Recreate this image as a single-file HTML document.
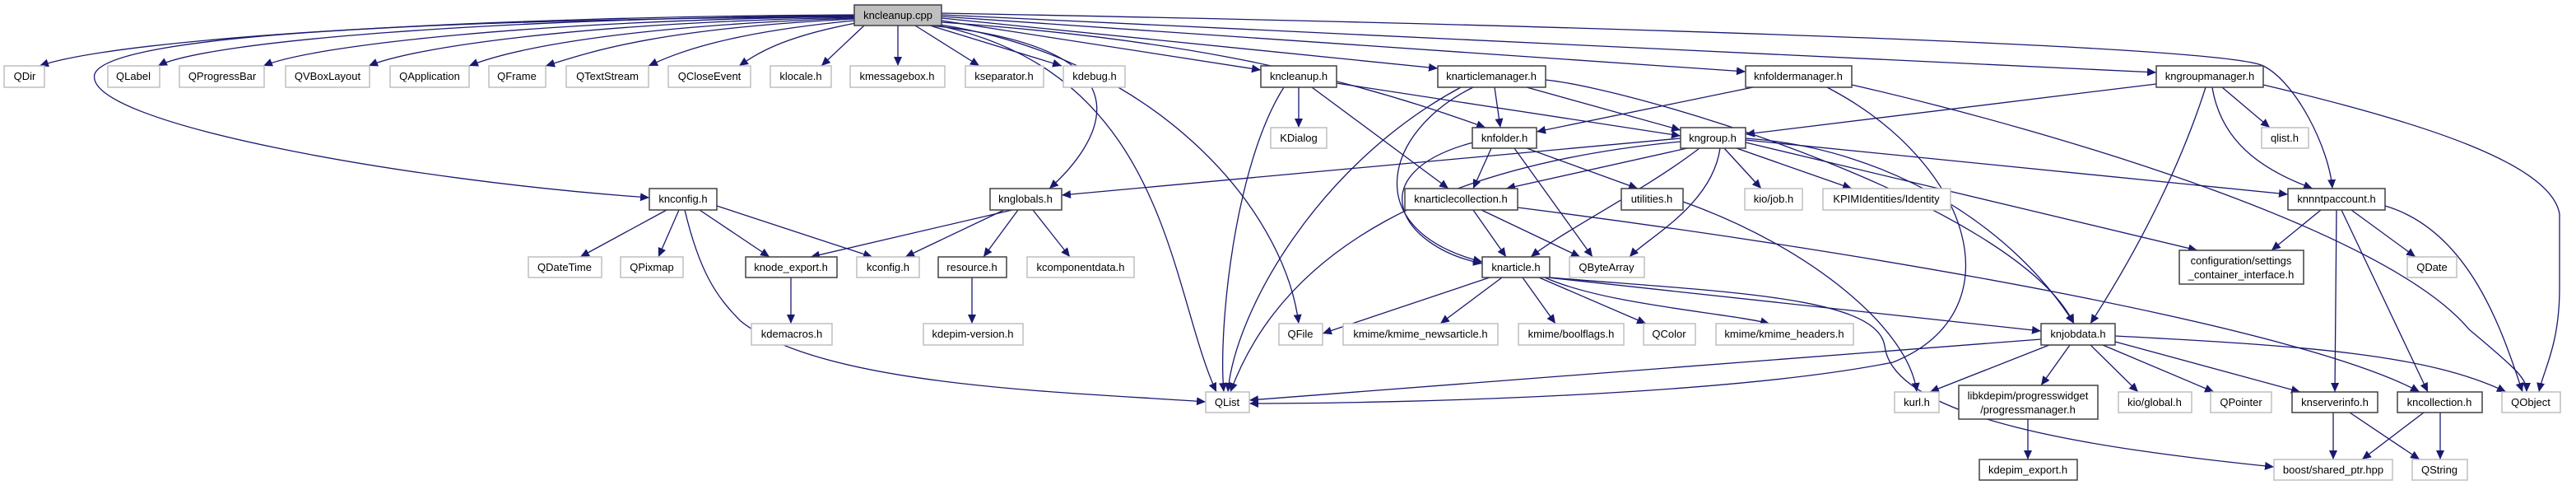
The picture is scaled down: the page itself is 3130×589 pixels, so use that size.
<!DOCTYPE html>
<html><head><meta charset="utf-8"><style>
html,body{margin:0;padding:0;background:#fff;}
svg{display:block;}
text{font-family:"Liberation Sans",sans-serif;font-size:13px;fill:#000;text-anchor:middle;}
.e{fill:none;stroke:#191970;stroke-width:1.3;marker-end:url(#a);}
.g{fill:#fff;stroke:#bfbfbf;stroke-width:1.5;}
.b{fill:#fff;stroke:#404040;stroke-width:1.5;}
</style></head><body>
<svg width="3130" height="589" viewBox="0 0 3130 589" xmlns="http://www.w3.org/2000/svg">
<defs><marker id="a" markerUnits="userSpaceOnUse" markerWidth="12" markerHeight="10" refX="11" refY="5" orient="auto"><path d="M0,0 L11,5 L0,10 z" fill="#191970"/></marker></defs>
<g>
<path class="e" d="M1038,18 C600,20 150,45 48,80"/>
<path class="e" d="M1038,19 C600,22 250,50 192,80"/>
<path class="e" d="M1038,20 C650,25 380,55 320,80"/>
<path class="e" d="M1038,21 C700,28 500,58 448,80"/>
<path class="e" d="M1038,22 C750,32 620,60 570,80"/>
<path class="e" d="M1038,23 C800,35 720,62 663,80"/>
<path class="e" d="M1038,25 C880,40 820,65 788,80"/>
<path class="e" d="M1040,28 C950,45 920,65 898,80"/>
<path class="e" d="M1050,31 L998,80"/>
<path class="e" d="M1091,31 L1091,80"/>
<path class="e" d="M1112,31 L1190,80"/>
<path class="e" d="M1130,31 L1290,80"/>
<path class="e" d="M1144,25 L1532,85"/>
<path class="e" d="M1144,22 L1747,83"/>
<path class="e" d="M1144,20 L2121,87"/>
<path class="e" d="M1144,18 L2620,88"/>
<path class="e" d="M1144,16 C1900,30 2700,55 2750,80 C2790,100 2830,180 2834,229"/>
<path class="e" d="M1144,27 C1400,45 1600,80 1805,155"/>
<path class="e" d="M1130,31 C1420,60 1330,180 1275,229"/>
<path class="e" d="M1140,31 C1420,90 1420,350 1478,476"/>
<path class="e" d="M1142,30 C1400,70 1560,250 1578,393"/>
<path class="e" d="M1038,20 C400,25 130,50 115,90 C100,150 500,220 789,240"/>
<path class="e" d="M1578,106 L1578,155"/>
<path class="e" d="M1594,106 L1760,229"/>
<path class="e" d="M1560,106 C1500,200 1480,400 1487,476"/>
<path class="e" d="M1624,101 L2042,165"/>
<path class="e" d="M1816,106 L1823,155"/>
<path class="e" d="M1855,106 L2042,158"/>
<path class="e" d="M1775,106 C1600,200 1500,380 1492,476"/>
<path class="e" d="M1790,106 C1680,160 1650,280 1801,318"/>
<path class="e" d="M1878,97 C2000,110 2450,250 2520,393"/>
<path class="e" d="M2130,106 L1867,160"/>
<path class="e" d="M2250,103 C2500,160 2900,280 3000,400 C3060,450 3070,460 3070,476"/>
<path class="e" d="M2220,106 C2400,200 2450,380 2300,440 C2100,480 1700,490 1518,490"/>
<path class="e" d="M2620,102 L2121,163"/>
<path class="e" d="M2700,106 L2758,155"/>
<path class="e" d="M2688,106 C2700,180 2760,210 2810,229"/>
<path class="e" d="M2680,106 C2650,200 2600,300 2540,393"/>
<path class="e" d="M2750,103 C2950,150 3100,200 3110,260 L3110,350 C3110,420 3090,450 3085,476"/>
<path class="e" d="M2042,168 L1290,237"/>
<path class="e" d="M2050,180 L1830,229"/>
<path class="e" d="M2065,180 C2000,230 1900,280 1860,312"/>
<path class="e" d="M2090,180 C2080,250 2000,290 1980,312"/>
<path class="e" d="M2095,180 L2140,229"/>
<path class="e" d="M2110,180 L2250,229"/>
<path class="e" d="M2121,170 L2780,236"/>
<path class="e" d="M2121,173 L2670,304"/>
<path class="e" d="M2121,168 C2300,180 2450,280 2520,393"/>
<path class="e" d="M2042,172 C1750,200 1560,300 1495,476"/>
<path class="e" d="M1812,180 L1790,229"/>
<path class="e" d="M1790,173 C1650,210 1700,300 1801,320"/>
<path class="e" d="M1840,180 L1935,312"/>
<path class="e" d="M1855,180 L1990,229"/>
<path class="e" d="M1790,255 L1830,312"/>
<path class="e" d="M1800,255 L1920,312"/>
<path class="e" d="M1844,252 C2300,310 2800,400 2940,476"/>
<path class="e" d="M2045,245 C2200,300 2320,400 2329,476"/>
<path class="e" d="M2820,255 L2760,304"/>
<path class="e" d="M2839,255 L2837,476"/>
<path class="e" d="M2845,255 L2950,476"/>
<path class="e" d="M2857,255 L2935,312"/>
<path class="e" d="M2898,250 C3000,280 3040,400 3065,476"/>
<path class="e" d="M1230,255 L985,312"/>
<path class="e" d="M1220,255 L1100,312"/>
<path class="e" d="M1237,255 L1195,312"/>
<path class="e" d="M1255,255 L1300,312"/>
<path class="e" d="M810,255 L705,312"/>
<path class="e" d="M825,255 L800,312"/>
<path class="e" d="M850,255 L935,312"/>
<path class="e" d="M871,250 L1060,312"/>
<path class="e" d="M832,255 C850,330 870,360 900,390 C1000,470 1300,476 1465,488"/>
<path class="e" d="M961,337 L961,393"/>
<path class="e" d="M1181,337 L1181,393"/>
<path class="e" d="M1810,337 L1607,405"/>
<path class="e" d="M1825,337 L1750,393"/>
<path class="e" d="M1850,337 L1890,393"/>
<path class="e" d="M1870,337 L2000,393"/>
<path class="e" d="M1877,337 C1950,370 2100,380 2150,393"/>
<path class="e" d="M1880,337 L2480,402"/>
<path class="e" d="M1883,337 C2100,355 2280,360 2290,420 C2300,510 2550,545 2763,567"/>
<path class="e" d="M2480,412 L1518,486"/>
<path class="e" d="M2490,419 L2345,476"/>
<path class="e" d="M2515,419 L2480,468"/>
<path class="e" d="M2540,419 L2598,476"/>
<path class="e" d="M2555,419 L2690,476"/>
<path class="e" d="M2570,415 L2795,476"/>
<path class="e" d="M2570,408 C2800,420 2950,430 3045,476"/>
<path class="e" d="M2464,509 L2464,558"/>
<path class="e" d="M2835,501 L2835,558"/>
<path class="e" d="M2855,501 L2940,558"/>
<path class="e" d="M2945,501 L2870,558"/>
<path class="e" d="M2965,501 L2965,558"/>
</g>
<g>
<rect x="1038" y="6" width="106" height="25" fill="#bfbfbf" stroke="#404040" stroke-width="1.5"/><text x="1091" y="23">kncleanup.cpp</text>
<rect class="g" x="5" y="80" width="49" height="26"/><text x="30" y="97">QDir</text>
<rect class="g" x="131" y="80" width="63" height="26"/><text x="162" y="97">QLabel</text>
<rect class="g" x="218" y="80" width="103" height="26"/><text x="270" y="97">QProgressBar</text>
<rect class="g" x="347" y="80" width="102" height="26"/><text x="398" y="97">QVBoxLayout</text>
<rect class="g" x="474" y="80" width="96" height="26"/><text x="522" y="97">QApplication</text>
<rect class="g" x="594" y="80" width="69" height="26"/><text x="628" y="97">QFrame</text>
<rect class="g" x="688" y="80" width="100" height="26"/><text x="738" y="97">QTextStream</text>
<rect class="g" x="812" y="80" width="100" height="26"/><text x="862" y="97">QCloseEvent</text>
<rect class="g" x="936" y="80" width="74" height="26"/><text x="973" y="97">klocale.h</text>
<rect class="g" x="1033" y="80" width="115" height="26"/><text x="1090" y="97">kmessagebox.h</text>
<rect class="g" x="1173" y="80" width="95" height="26"/><text x="1220" y="97">kseparator.h</text>
<rect class="g" x="1292" y="80" width="75" height="26"/><text x="1330" y="97">kdebug.h</text>
<rect class="b" x="1532" y="80" width="92" height="26"/><text x="1578" y="97">kncleanup.h</text>
<rect class="b" x="1747" y="80" width="131" height="26"/><text x="1812" y="97">knarticlemanager.h</text>
<rect class="b" x="2121" y="80" width="129" height="26"/><text x="2185" y="97">knfoldermanager.h</text>
<rect class="b" x="2620" y="80" width="130" height="26"/><text x="2685" y="97">kngroupmanager.h</text>
<rect class="g" x="1544" y="155" width="68" height="25"/><text x="1578" y="172">KDialog</text>
<rect class="b" x="1789" y="155" width="78" height="25"/><text x="1828" y="172">knfolder.h</text>
<rect class="b" x="2042" y="155" width="79" height="25"/><text x="2081" y="172">kngroup.h</text>
<rect class="g" x="2748" y="155" width="57" height="25"/><text x="2776" y="172">qlist.h</text>
<rect class="b" x="789" y="229" width="82" height="26"/><text x="830" y="246">knconfig.h</text>
<rect class="b" x="1203" y="229" width="87" height="26"/><text x="1246" y="246">knglobals.h</text>
<rect class="b" x="1707" y="229" width="137" height="26"/><text x="1775" y="246">knarticlecollection.h</text>
<rect class="b" x="1970" y="229" width="75" height="26"/><text x="2007" y="246">utilities.h</text>
<rect class="g" x="2120" y="229" width="70" height="26"/><text x="2155" y="246">kio/job.h</text>
<rect class="g" x="2215" y="229" width="155" height="26"/><text x="2292" y="246">KPIMIdentities/Identity</text>
<rect class="b" x="2780" y="229" width="118" height="26"/><text x="2839" y="246">knnntpaccount.h</text>
<rect class="g" x="642" y="312" width="89" height="25"/><text x="686" y="329">QDateTime</text>
<rect class="g" x="754" y="312" width="76" height="25"/><text x="792" y="329">QPixmap</text>
<rect class="b" x="906" y="312" width="111" height="25"/><text x="961" y="329">knode_export.h</text>
<rect class="g" x="1041" y="312" width="76" height="25"/><text x="1079" y="329">kconfig.h</text>
<rect class="b" x="1140" y="312" width="83" height="25"/><text x="1181" y="329">resource.h</text>
<rect class="g" x="1248" y="312" width="130" height="25"/><text x="1313" y="329">kcomponentdata.h</text>
<rect class="b" x="1801" y="312" width="82" height="25"/><text x="1842" y="329">knarticle.h</text>
<rect class="g" x="1907" y="312" width="91" height="25"/><text x="1952" y="329">QByteArray</text>
<rect class="b" x="2648" y="304" width="151" height="41"/><text x="2723" y="321">configuration/settings</text><text x="2723" y="338">_container_interface.h</text>
<rect class="g" x="2925" y="312" width="60" height="25"/><text x="2955" y="329">QDate</text>
<rect class="g" x="913" y="393" width="98" height="26"/><text x="962" y="410">kdemacros.h</text>
<rect class="g" x="1122" y="393" width="121" height="26"/><text x="1182" y="410">kdepim-version.h</text>
<rect class="g" x="1554" y="393" width="53" height="26"/><text x="1580" y="410">QFile</text>
<rect class="g" x="1632" y="393" width="188" height="26"/><text x="1726" y="410">kmime/kmime_newsarticle.h</text>
<rect class="g" x="1845" y="393" width="128" height="26"/><text x="1909" y="410">kmime/boolflags.h</text>
<rect class="g" x="1997" y="393" width="63" height="26"/><text x="2028" y="410">QColor</text>
<rect class="g" x="2085" y="393" width="167" height="26"/><text x="2168" y="410">kmime/kmime_headers.h</text>
<rect class="b" x="2480" y="393" width="90" height="26"/><text x="2525" y="410">knjobdata.h</text>
<rect class="g" x="1465" y="476" width="53" height="25"/><text x="1491" y="493">QList</text>
<rect class="g" x="2302" y="476" width="54" height="25"/><text x="2329" y="493">kurl.h</text>
<rect class="b" x="2380" y="468" width="169" height="41"/><text x="2464" y="485">libkdepim/progresswidget</text><text x="2464" y="502">/progressmanager.h</text>
<rect class="g" x="2574" y="476" width="89" height="25"/><text x="2618" y="493">kio/global.h</text>
<rect class="g" x="2686" y="476" width="74" height="25"/><text x="2723" y="493">QPointer</text>
<rect class="b" x="2785" y="476" width="104" height="25"/><text x="2837" y="493">knserverinfo.h</text>
<rect class="b" x="2913" y="476" width="103" height="25"/><text x="2964" y="493">kncollection.h</text>
<rect class="g" x="3040" y="476" width="71" height="25"/><text x="3075" y="493">QObject</text>
<rect class="b" x="2405" y="558" width="119" height="25"/><text x="2464" y="575">kdepim_export.h</text>
<rect class="g" x="2763" y="558" width="144" height="25"/><text x="2835" y="575">boost/shared_ptr.hpp</text>
<rect class="g" x="2931" y="558" width="67" height="25"/><text x="2964" y="575">QString</text>
</g>
</svg>
</body></html>
